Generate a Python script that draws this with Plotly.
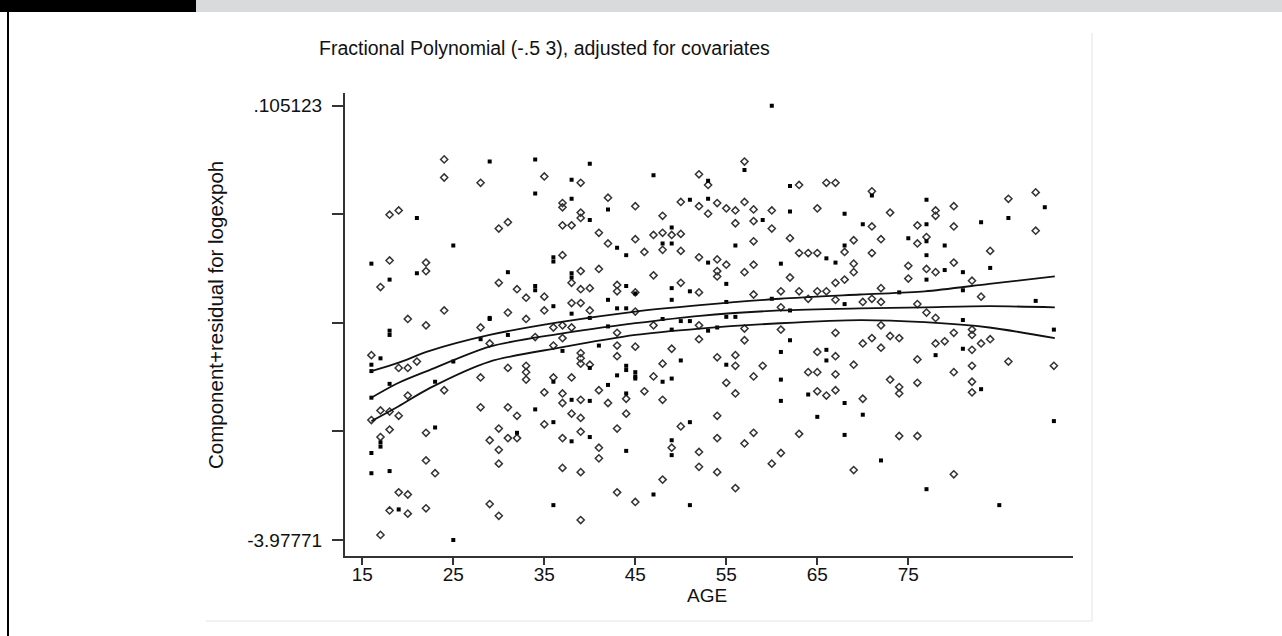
import plotly.graph_objects as go

# ---------------- data ----------------
# open-diamond observations (age, component+residual)
diamond_age = [
    24, 24, 28, 18, 19, 18, 22, 22, 17, 24, 20, 22, 28, 16, 19, 20, 21, 24, 28, 28,
    17, 18, 16, 19, 20, 18, 17, 22, 29, 22, 23, 19, 20, 18, 20, 22, 29, 17,
    35, 39, 37, 37, 42, 39, 39, 45, 30, 31, 37, 38, 41, 45, 42, 37, 39, 41, 30, 32,
    38, 39, 40, 43, 43, 45, 33, 35, 38, 39, 31, 33, 35, 40, 36, 37, 38, 34, 29, 37,
    43, 36, 43, 39, 39, 39, 40, 43, 31, 33, 33, 33, 36, 38, 35, 37, 37, 39, 41, 42,
    44, 31, 32, 35, 38, 39, 44, 30, 31, 32, 37, 39, 43, 30, 30, 41, 41, 37, 39, 43,
    45, 30, 39,
    52, 53, 57, 48, 50, 52, 53, 54, 55, 56, 56, 57, 58, 58, 60, 60, 46, 47, 48, 48,
    49, 50, 50, 52, 54, 54, 54, 55, 57, 58, 58, 47, 50, 52, 58, 45, 47, 52, 57, 57,
    45, 52, 46, 47, 48, 49, 48, 54, 56, 56, 55, 56, 58, 59, 50, 49, 52, 52, 54, 54,
    54, 57, 58, 60, 61, 48, 56,
    63, 66, 67, 71, 65, 71, 73, 76, 62, 69, 72, 76, 63, 64, 65, 68, 69, 69, 71, 75,
    62, 67, 68, 75, 61, 63, 65, 66, 72, 64, 67, 70, 71, 72, 76, 61, 61, 72, 67, 65,
    67, 70, 71, 72, 73, 74, 76, 69, 64, 65, 67, 73, 74, 74, 76, 65, 66, 67, 70, 63,
    74, 76, 69,
    89, 86, 78, 78, 80, 80, 89, 77, 84, 80, 77, 78, 82, 83, 77, 78, 82, 82, 80, 78,
    79, 82, 83, 84, 80, 82, 86, 91, 82, 82, 80,
]
diamond_res = [
    -0.40, -0.57, -0.62, -0.92, -0.88, -1.35, -1.37, -1.45, -1.60, -1.82, -1.90, -1.96, -1.98, -2.24, -2.36, -2.36, -2.30, -2.57, -2.45, -2.73,
    -2.76, -2.77, -2.85, -2.81, -2.62, -2.94, -3.01, -2.97, -3.04, -3.23, -3.35, -3.53, -3.55, -3.70, -3.73, -3.68, -3.64, -3.93,
    -0.56, -0.62, -0.81, -0.85, -0.76, -0.90, -0.95, -0.84, -1.05, -0.99, -1.02, -1.02, -1.09, -1.15, -1.19, -1.30, -1.45, -1.43, -1.56, -1.62,
    -1.56, -1.62, -1.61, -1.58, -1.64, -1.65, -1.70, -1.69, -1.75, -1.75, -1.84, -1.90, -1.82, -1.82, -1.98, -1.96, -1.98, -2.07, -2.13, -2.08,
    -2.03, -2.15, -2.15, -2.22, -2.27, -2.32, -2.33, -2.25, -2.36, -2.34, -2.40, -2.47, -2.45, -2.45, -2.59, -2.60, -2.69, -2.66, -2.57, -2.69,
    -2.65, -2.73, -2.81, -2.89, -2.79, -2.83, -2.79, -2.93, -3.02, -3.02, -3.02, -2.96, -2.93, -3.13, -3.26, -3.11, -3.21, -3.30, -3.34, -3.53,
    -3.62, -3.75, -3.79,
    -0.54, -0.64, -0.42, -0.93, -0.80, -0.84, -0.91, -0.81, -0.86, -0.88, -1.00, -0.80, -0.87, -0.98, -0.88, -1.05, -1.27, -1.11, -1.09, -1.25,
    -1.11, -1.10, -1.26, -1.32, -1.34, -1.45, -1.50, -1.39, -1.46, -1.17, -1.39, -1.49, -1.56, -1.65, -1.67, -1.83, -1.96, -1.96, -1.99, -2.10,
    -2.16, -2.09, -2.58, -2.44, -2.32, -2.18, -2.66, -2.26, -2.24, -2.34, -2.50, -2.60, -2.44, -2.34, -2.91, -3.11, -3.15, -3.29, -2.81, -3.02,
    -3.34, -3.07, -2.97, -3.26, -3.16, -3.41, -3.49,
    -0.64, -0.62, -0.62, -0.70, -0.86, -1.03, -0.90, -1.02, -1.14, -1.16, -1.15, -1.19, -1.28, -1.28, -1.28, -1.27, -1.38, -1.46, -1.28, -1.40,
    -1.51, -1.56, -1.53, -1.52, -1.64, -1.64, -1.64, -1.64, -1.61, -1.71, -1.72, -1.74, -1.71, -1.74, -1.76, -1.79, -2.00, -1.96, -2.03, -2.21,
    -2.25, -2.13, -2.08, -2.17, -2.06, -2.08, -2.28, -2.33, -2.40, -2.40, -2.42, -2.47, -2.54, -2.60, -2.50, -2.58, -2.62, -2.57, -2.65, -2.98,
    -3.00, -3.00, -3.32,
    -0.71, -0.77, -0.88, -0.93, -0.84, -1.03, -1.07, -1.13, -1.26, -1.37, -1.43, -1.46, -1.54, -1.69, -1.84, -1.89, -2.00, -2.05, -2.03, -2.13,
    -2.11, -2.19, -2.13, -2.09, -2.40, -2.34, -2.30, -2.34, -2.49, -2.59, -3.36,
]

# solid (filled) observations
solid_age = [
    29, 21, 25, 16, 21, 18, 18, 18, 29, 17, 16, 16, 18, 16, 23, 25, 28, 17, 17, 23,
    16, 16, 18, 19, 25,
    34, 40, 38, 34, 38, 42, 40, 43, 44, 36, 36, 31, 38, 38, 34, 34, 44, 42, 29, 36,
    38, 43, 44, 40, 42, 31, 37, 41, 40, 44, 44, 45, 36, 43, 38, 40, 42, 44, 34, 36,
    32, 38, 40, 44, 36,
    60, 47, 53, 57, 51, 53, 59, 48, 49, 49, 53, 55, 56, 61, 49, 51, 49, 45, 48, 50,
    51, 49, 53, 54, 55, 56, 55, 60, 45, 45, 48, 49, 50, 55, 61, 61, 61, 51, 49, 49,
    47, 51,
    62, 71, 62, 68, 70, 75, 66, 67, 68, 74, 68, 62, 62, 66, 66, 64, 68, 65, 70, 68,
    72,
    90, 77, 86, 83, 77, 77, 79, 77, 84, 79, 81, 77, 81, 89, 81, 91, 81, 78, 83, 91,
    77, 85,
]
solid_res = [
    -0.42, -0.95, -1.21, -1.38, -1.47, -1.53, -2.01, -2.05, -1.89, -2.27, -2.33, -2.39, -2.51, -2.64, -2.49, -2.30, -2.09, -3.06, -3.10, -2.92,
    -3.16, -3.35, -3.33, -3.69, -3.97771,
    -0.40, -0.44, -0.59, -0.72, -0.77, -0.87, -0.97, -1.23, -1.30, -1.32, -1.36, -1.46, -1.47, -1.51, -1.59, -1.63, -1.59, -1.72, -1.90, -1.78,
    -1.85, -1.80, -1.80, -1.89, -1.97, -2.05, -2.20, -2.15, -2.36, -2.34, -2.38, -2.44, -2.49, -2.43, -2.66, -2.67, -2.52, -2.60, -2.75, -2.87,
    -2.97, -3.05, -3.01, -3.14, -3.65,
    0.105123, -0.55, -0.60, -0.50, -0.78, -0.77, -0.97, -1.19, -1.04, -1.19, -1.37, -1.57, -1.21, -1.38, -1.61, -1.64, -1.72, -1.66, -1.90, -1.92,
    -1.92, -2.00, -2.01, -1.98, -1.88, -1.88, -1.74, -1.71, -2.40, -2.46, -2.49, -2.46, -2.29, -2.33, -2.21, -2.47, -2.67, -2.87, -3.04, -3.18,
    -3.55, -3.65,
    -0.65, -0.74, -0.89, -0.91, -1.01, -1.14, -1.33, -1.37, -1.21, -1.65, -1.76, -1.82, -2.10, -2.19, -2.29, -2.61, -2.69, -2.82, -2.80, -2.99,
    -3.23,
    -0.85, -0.78, -0.95, -0.99, -1.01, -1.17, -1.21, -1.30, -1.42, -1.44, -1.46, -1.53, -1.63, -1.73, -1.91, -2.00, -2.18, -2.24, -2.56, -2.86,
    -3.50, -3.65,
]

# fitted fractional polynomial and its confidence band
fit_age = [16, 19, 22.4, 29, 36.7, 45, 52.1, 60.9, 69.7, 76.8, 83.9, 91.1]
fit_upper = [-2.39, -2.31, -2.20, -2.05, -1.93, -1.83, -1.77, -1.71, -1.67, -1.64, -1.57, -1.50]
fit_mid = [-2.64, -2.50, -2.38, -2.16, -2.04, -1.94, -1.87, -1.82, -1.80, -1.79, -1.78, -1.79]
fit_lower = [-2.86, -2.72, -2.55, -2.30, -2.17, -2.05, -1.99, -1.94, -1.91, -1.93, -1.98, -2.08]

x_ticks = [15, 25, 35, 45, 55, 65, 75]
y_ticks = [0.105123, -0.915585, -1.936293, -2.957002, -3.97771]
y_ticktext = [".105123", "", "", "", "-3.97771"]

title_text = "Fractional Polynomial (-.5 3), adjusted for covariates"
x_title = "AGE"
y_title = "Component+residual for logexpoh"

# ---------------- figure ----------------
W, H = 1282, 636
FONT = "Liberation Sans, Arial, sans-serif"

fig = go.Figure()
fig.add_trace(go.Scatter(
    x=diamond_age, y=diamond_res, mode="markers",
    marker=dict(symbol="diamond-open", size=5.5, color="#333333", line=dict(width=1.5, color="#333333")),
    showlegend=False, hoverinfo="skip"))
fig.add_trace(go.Scatter(
    x=solid_age, y=solid_res, mode="markers",
    marker=dict(symbol="square", size=4, color="#000000", line=dict(width=0)),
    showlegend=False, hoverinfo="skip"))
for ys in (fit_upper, fit_mid, fit_lower):
    fig.add_trace(go.Scatter(
        x=fit_age, y=ys, mode="lines",
        line=dict(color="#111111", width=1.8, shape="spline", smoothing=0.8),
        showlegend=False, hoverinfo="skip"))

def px(x):
    return x / W

def py(y):
    return 1 - y / H

shapes = [
    dict(type="rect", xref="paper", yref="paper", x0=0, x1=px(196), y0=py(12), y1=1,
         fillcolor="#000000", line=dict(width=0), layer="above"),
    dict(type="rect", xref="paper", yref="paper", x0=px(196), x1=1, y0=py(12), y1=1,
         fillcolor="#d9dadc", line=dict(width=0), layer="above"),
    dict(type="rect", xref="paper", yref="paper", x0=px(7), x1=px(9), y0=0, y1=py(12),
         fillcolor="#000000", line=dict(width=0), layer="above"),
    dict(type="line", xref="paper", yref="paper", x0=px(206), x1=px(1092), y0=py(621), y1=py(621),
         line=dict(color="#ececec", width=1.5)),
    dict(type="line", xref="paper", yref="paper", x0=px(1092), x1=px(1092), y0=py(621), y1=py(33),
         line=dict(color="#ececec", width=1.5)),
]

annotations = [
    dict(text=title_text, xref="paper", yref="paper", x=px(544), y=py(48),
         showarrow=False, xanchor="center", yanchor="middle",
         font=dict(family=FONT, size=19.5, color="#111111")),
    dict(text=x_title, xref="paper", yref="paper", x=px(706.5), y=py(595),
         showarrow=False, xanchor="center", yanchor="middle",
         font=dict(family=FONT, size=19, color="#111111")),
    dict(text=y_title, xref="paper", yref="paper", x=px(216), y=py(315),
         showarrow=False, xanchor="center", yanchor="middle", textangle=-90,
         font=dict(family=FONT, size=20.5, color="#111111")),
]

fig.update_layout(
    width=W, height=H,
    margin=dict(l=0, r=0, t=0, b=0),
    paper_bgcolor="white", plot_bgcolor="white",
    shapes=shapes, annotations=annotations,
    showlegend=False,
    xaxis=dict(
        domain=[px(345), px(1073)], range=[13.1, 93.1],
        showgrid=False, zeroline=False,
        showline=True, linecolor="#333333", linewidth=2,
        ticks="outside", ticklen=7, tickwidth=2, tickcolor="#333333",
        tickvals=x_ticks, ticktext=[str(t) for t in x_ticks],
        tickfont=dict(family=FONT, size=19, color="#111111"),
        ticklabelstandoff=-7,
    ),
    yaxis=dict(
        domain=[py(555.7), py(92.7)], range=[-4.1254, 0.2272],
        showgrid=False, zeroline=False,
        showline=True, linecolor="#333333", linewidth=2,
        ticks="outside", ticklen=11, tickwidth=2, tickcolor="#333333",
        tickvals=y_ticks, ticktext=y_ticktext,
        tickfont=dict(family=FONT, size=19, color="#111111"),
        ticklabelstandoff=6,
    ),
)

fig.write_html("out.html")
